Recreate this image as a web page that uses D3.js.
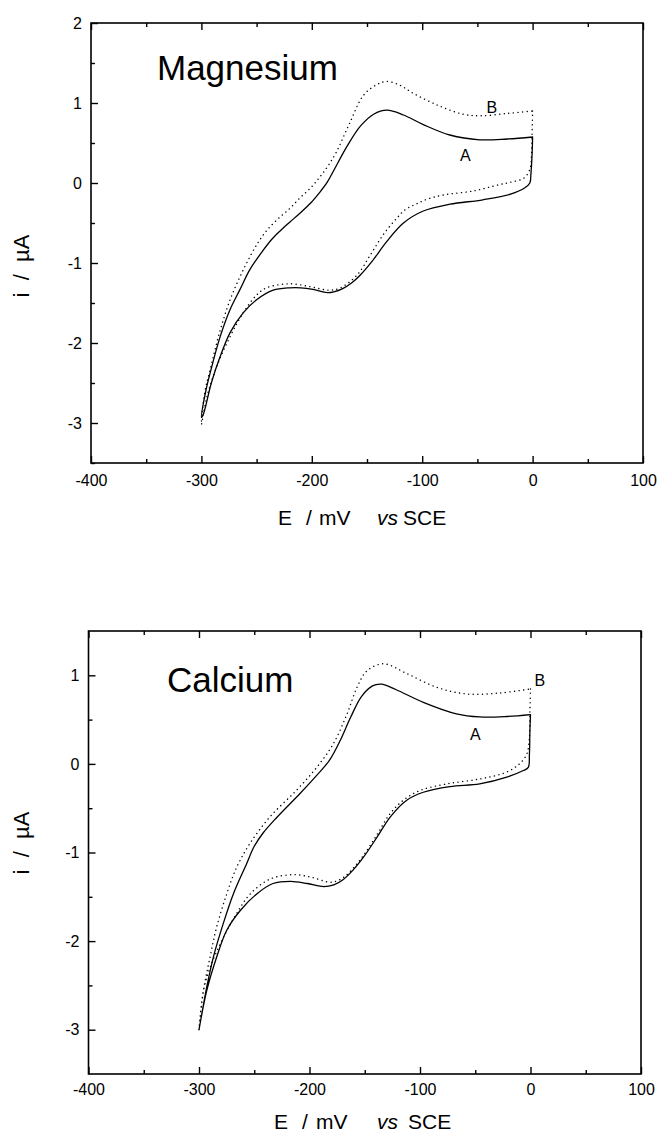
<!DOCTYPE html>
<html><head><meta charset="utf-8">
<script src="https://cdn.jsdelivr.net/npm/d3@7"></script>
<style>
body{margin:0;background:#fff}
svg text{font-family:Arial,"Liberation Sans",Helvetica,sans-serif;fill:#000}
</style>
</head><body>
<svg id="chart" width="658" height="1136"></svg>
<script>
// ---------- data ----------
const xTicks = [-400, -300, -200, -100, 0, 100];
const xMinor = [-350, -250, -150, -50, 50];
const yTicksMg = [-3, -2, -1, 0, 1, 2];
const yMinorMg = [-3.5, -2.5, -1.5, -0.5, 0.5, 1.5];
const yTicksCa = [-3, -2, -1, 0, 1];
const yMinorCa = [-2.5, -1.5, -0.5, 0.5];
const seriesNames = ["A", "B"];
const panelTitles = ["Magnesium", "Calcium"];

// [E (mV), i (uA)] in scan order: 0 -> -300 -> 0
const mgA = [[0,0.57],[-0.5,0.35],[-1.5,0.12],[-2.5,0.0],[-7,-0.06],[-20,-0.14],[-45,-0.21],[-75,-0.265],[-99,-0.35],[-117,-0.5],[-132,-0.73],[-146,-0.99],[-156,-1.15],[-164,-1.25],[-172,-1.32],[-180,-1.36],[-186,-1.37],[-199,-1.33],[-210,-1.31],[-220,-1.31],[-235,-1.34],[-250,-1.46],[-262,-1.62],[-274,-1.87],[-283,-2.17],[-291,-2.5],[-298,-2.88],[-300,-2.93],
  [-296,-2.6],[-292,-2.37],[-283,-1.92],[-274,-1.58],[-265,-1.33],[-256,-1.08],[-244,-0.84],[-236,-0.7],[-228,-0.59],[-220,-0.49],[-211,-0.38],[-201,-0.25],[-193,-0.12],[-186,0.01],[-180,0.16],[-168,0.46],[-156,0.71],[-144,0.86],[-132,0.91],[-117,0.85],[-99,0.73],[-75,0.6],[-48,0.54],[-23,0.55],[0,0.575]];
const mgB = [[0,0.9],[-0.5,0.6],[-1,0.35],[-2.5,0.17],[-8,0.06],[-20,0.01],[-30,-0.02],[-54,-0.1],[-81,-0.15],[-95,-0.2],[-105,-0.26],[-115,-0.33],[-123,-0.44],[-135,-0.64],[-147,-0.9],[-159,-1.15],[-174,-1.31],[-184,-1.34],[-200,-1.3],[-220,-1.26],[-241,-1.31],[-250,-1.4],[-262,-1.62],[-274,-1.92],[-286,-2.29],[-295,-2.67],[-300,-3.02],
  [-297,-2.62],[-292,-2.33],[-283,-1.84],[-274,-1.46],[-265,-1.17],[-256,-0.92],[-248,-0.73],[-240,-0.58],[-230,-0.44],[-220,-0.32],[-211,-0.19],[-201,-0.06],[-193,0.07],[-186,0.2],[-178,0.38],[-166,0.74],[-153,1.1],[-141,1.23],[-132,1.27],[-120,1.22],[-108,1.12],[-84,0.96],[-63,0.86],[-48,0.84],[-23,0.87],[0,0.9]];
const caA = [[0,0.556],[-0.5,0.39],[-1,0.1],[-2,-0.04],[-6.5,-0.075],[-21.5,-0.15],[-46,-0.226],[-73,-0.256],[-97,-0.32],[-112,-0.41],[-127,-0.6],[-139,-0.83],[-151,-1.05],[-160,-1.19],[-170,-1.31],[-178,-1.365],[-187,-1.385],[-202,-1.35],[-217,-1.325],[-233,-1.35],[-248,-1.47],[-263,-1.66],[-275,-1.88],[-284,-2.18],[-293,-2.56],[-299,-2.93],[-300,-3.0],
  [-299,-2.93],[-293,-2.52],[-287,-2.18],[-278,-1.8],[-269,-1.47],[-257,-1.13],[-250,-0.93],[-242,-0.78],[-230,-0.61],[-209,-0.34],[-193.5,-0.13],[-182,0.04],[-172,0.27],[-163,0.52],[-153,0.76],[-143,0.88],[-135,0.9],[-122,0.84],[-97,0.695],[-67,0.565],[-46,0.53],[-21.5,0.535],[0,0.556]];
const caB = [[0,0.846],[-0.5,0.6],[-1,0.3],[-3.4,0.11],[-10,0.0],[-22,-0.095],[-46,-0.17],[-76,-0.226],[-100,-0.3],[-115,-0.41],[-127,-0.56],[-139,-0.8],[-151,-1.03],[-160,-1.17],[-168,-1.27],[-175,-1.32],[-182,-1.335],[-198,-1.28],[-214.7,-1.25],[-235.7,-1.3],[-253.8,-1.47],[-266,-1.69],[-278,-1.96],[-290,-2.3],[-296,-2.56],[-300,-3.0],
  [-296,-2.56],[-290,-2.18],[-284,-1.84],[-275,-1.47],[-266,-1.17],[-254,-0.9],[-236,-0.6],[-212,-0.3],[-193.5,-0.04],[-178.5,0.226],[-166,0.565],[-157,0.865],[-148,1.05],[-133,1.13],[-112,1.02],[-85,0.865],[-58,0.79],[-28,0.80],[0,0.846]];

// ---------- layout ----------
const panels = [
  {title: panelTitles[0], series: [mgA, mgB], yTicks: yTicksMg, yMinor: yMinorMg, yDomain: [-3.5, 2],
   x0: 91, x1: 643, y0: 463, y1: 23, titleX: 157, titleY: 80,
   labelAt: [[-61, 0.35], [-37, 0.95]], xPad: 12, xTitleY: 525,
   xTitleParts: [278, 306, 319, 377, 403], yLabelY: 266},
  {title: panelTitles[1], series: [caA, caB], yTicks: yTicksCa, yMinor: yMinorCa, yDomain: [-3.5, 1.5],
   x0: 88.5, x1: 641, y0: 1074, y1: 631, titleX: 167, titleY: 692,
   labelAt: [[-50, 0.34], [8.5, 0.94]], xPad: 10, xTitleY: 1129,
   xTitleParts: [274, 302, 316, 377, 408], yLabelY: 843}
];

const svg = d3.select("#chart");
const fmt = d => String(d);

panels.forEach(p => {
  const x = d3.scaleLinear().domain([-400, 100]).range([p.x0, p.x1]);
  const y = d3.scaleLinear().domain(p.yDomain).range([p.y0, p.y1]);
  const g = svg.append("g");

  // minor ticks
  g.append("g").attr("transform", `translate(0,${p.y0})`)
    .call(d3.axisBottom(x).tickValues(xMinor).tickSize(-4).tickSizeOuter(0).tickFormat(""));
  g.append("g").attr("transform", `translate(0,${p.y1})`)
    .call(d3.axisTop(x).tickValues(xMinor).tickSize(-4).tickSizeOuter(0).tickFormat(""));
  g.append("g").attr("transform", `translate(${p.x0},0)`)
    .call(d3.axisLeft(y).tickValues(p.yMinor).tickSize(-4).tickSizeOuter(0).tickFormat(""));
  // major ticks
  g.append("g").attr("transform", `translate(0,${p.y0})`)
    .call(d3.axisBottom(x).tickValues(xTicks).tickSize(-7).tickSizeOuter(0).tickPadding(p.xPad).tickFormat(fmt));
  g.append("g").attr("transform", `translate(0,${p.y1})`)
    .call(d3.axisTop(x).tickValues(xTicks).tickSize(-7).tickSizeOuter(0).tickFormat(""));
  g.append("g").attr("transform", `translate(${p.x0},0)`)
    .call(d3.axisLeft(y).tickValues(p.yTicks).tickSize(-7).tickSizeOuter(0).tickPadding(9).tickFormat(fmt));

  g.selectAll(".domain").remove();
  g.selectAll(".tick line").attr("stroke", "#000").attr("stroke-width", 1.4);
  g.selectAll(".tick text").attr("font-size", 16).attr("fill", "#000")
    .attr("font-family", "Arial, 'Liberation Sans', sans-serif");

  // frame
  g.append("rect").attr("x", p.x0).attr("y", p.y1)
    .attr("width", p.x1 - p.x0).attr("height", p.y0 - p.y1)
    .attr("fill", "none").attr("stroke", "#000").attr("stroke-width", 1.6);

  // curves
  const line = d3.line().x(d => x(d[0])).y(d => y(d[1])).curve(d3.curveCatmullRom.alpha(0.5));
  p.series.forEach((s, k) => {
    g.append("path").datum(s).attr("d", line)
      .attr("fill", "none").attr("stroke", "#000")
      .attr("stroke-width", k === 0 ? 1.3 : 1.4)
      .attr("stroke-linecap", "round")
      .attr("stroke-dasharray", k === 0 ? null : "0.1,4.5");
  });

  // series labels
  seriesNames.forEach((n, k) => {
    g.append("text").attr("x", x(p.labelAt[k][0])).attr("y", y(p.labelAt[k][1]))
      .attr("text-anchor", "middle").attr("dy", "0.36em")
      .attr("font-size", 16).text(n);
  });

  // panel title
  g.append("text").attr("x", p.titleX).attr("y", p.titleY)
    .attr("font-size", 35).text(p.title);

  // x-axis title
  const xt = p.xTitleParts;
  const t = g.append("text").attr("y", p.xTitleY).attr("font-size", 21);
  t.append("tspan").attr("x", xt[0]).text("E");
  t.append("tspan").attr("x", xt[1]).text("/");
  t.append("tspan").attr("x", xt[2]).text("mV");
  t.append("tspan").attr("x", xt[3]).attr("font-style", "italic").text("vs");
  t.append("tspan").attr("x", xt[4]).text("SCE");

  // y-axis title
  g.append("text").attr("transform", `translate(29,${p.yLabelY}) rotate(-90)`)
    .attr("text-anchor", "middle").attr("font-size", 22)
    .style("white-space", "pre").text("i  /  µA");
});
</script>
</body></html>
